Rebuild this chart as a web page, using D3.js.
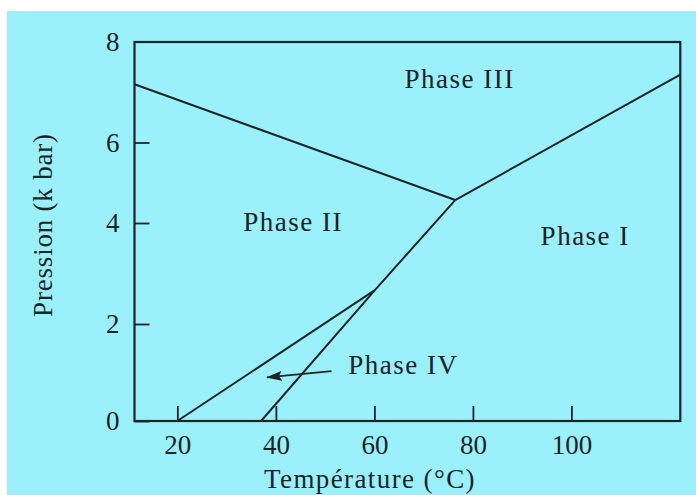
<!DOCTYPE html>
<html lang="fr">
<head>
<meta charset="UTF-8">
<title>Diagramme de phases</title>
<script src="https://d3js.org/d3.v7.min.js"></script>
<style>
    body { margin: 0; background: #fff; }
</style>
</head>
<body>
<svg width="696" height="495"></svg>
<script>
// ticks
const ticksT = [20, 40, 60, 80, 100];
const ticksP = [0, 2, 4, 6, 8];

// lignes de coexistence (T en °C, P en k bar)
const ligneII_III = { T: [11.3, 76.4], P: [7.16, 4.57] };
const ligneI_III  = { T: [76.4, 122.1], P: [4.57, 7.35] };
const ligneI_II   = { T: [76.4, 60.1, 37.0], P: [4.57, 2.67, 0] };
const ligneII_IV  = { T: [60.1, 20.0], P: [2.67, 0] };
const lignes = [ligneII_III, ligneI_III, ligneI_II, ligneII_IV];

// étiquettes des phases
const phaseNoms = ["Phase III", "Phase II", "Phase I", "Phase IV"];
const phaseT    = [77.3, 43.5, 102.8, 65.9];
const phaseP    = [7.08, 3.84, 3.56, 0.97];

// flèche vers la phase IV
const flecheT = [51.3, 38.2];
const flecheP = [1.03, 0.90];

const svg = d3.select("svg");
const ink = "#1c2426";
const police = "'Liberation Serif', 'Times New Roman', serif";

svg.append("rect")
    .attr("x", 7).attr("y", 11)
    .attr("width", 689).attr("height", 484)
    .attr("fill", "#9af0fb");

const x = d3.scaleLinear().domain([11.3, 122.1]).range([134.5, 680.3]);
// graduation de l'original pas tout à fait régulière
const y = d3.scaleLinear().domain(ticksP).range([421, 324, 223, 142.5, 42]);

// axes
const gx = svg.append("g")
    .attr("transform", "translate(0,421)")
    .call(d3.axisBottom(x).tickValues(ticksT).tickSizeInner(-15).tickSizeOuter(0).tickPadding(14));
const gy = svg.append("g")
    .attr("transform", "translate(134.5,0)")
    .call(d3.axisLeft(y).tickValues(ticksP).tickSizeInner(-15).tickSizeOuter(0).tickPadding(15));

[gx, gy].forEach(g => {
    g.select(".domain").remove();
    g.selectAll(".tick line").attr("stroke", ink).attr("stroke-width", 1.8);
    g.selectAll(".tick text")
        .style("font-family", police)
        .style("font-size", "27px")
        .attr("fill", ink);
});
gy.select(".tick:last-of-type line").remove();

// cadre
svg.append("rect")
    .attr("x", x.range()[0]).attr("y", y(8))
    .attr("width", x.range()[1] - x.range()[0])
    .attr("height", y(0) - y(8))
    .attr("fill", "none")
    .attr("stroke", ink)
    .attr("stroke-width", 2.2);

// lignes
const line = d3.line().x(d => x(d[0])).y(d => y(d[1]));
svg.selectAll(".ligne")
    .data(lignes)
    .enter().append("path")
    .attr("class", "ligne")
    .attr("d", d => line(d3.zip(d.T, d.P)))
    .attr("fill", "none")
    .attr("stroke", ink)
    .attr("stroke-width", 2);

// flèche
svg.append("defs").append("marker")
    .attr("id", "tete")
    .attr("markerUnits", "userSpaceOnUse")
    .attr("markerWidth", 16).attr("markerHeight", 10)
    .attr("refX", 15).attr("refY", 5)
    .attr("orient", "auto")
    .append("path")
    .attr("d", "M0,0 L16,5 L0,10 L3,5 z")
    .attr("fill", ink);

svg.append("path")
    .attr("d", line(d3.zip(flecheT, flecheP)))
    .attr("fill", "none")
    .attr("stroke", ink)
    .attr("stroke-width", 1.8)
    .attr("marker-end", "url(#tete)");

// étiquettes
svg.selectAll(".phase")
    .data(phaseNoms)
    .enter().append("text")
    .attr("class", "phase")
    .attr("x", (d, i) => x(phaseT[i]))
    .attr("y", (d, i) => y(phaseP[i]))
    .attr("text-anchor", "middle")
    .style("font-family", police)
    .style("font-size", "27px")
    .style("letter-spacing", "1.5px")
    .attr("fill", ink)
    .text(d => d);

// titres des axes
svg.append("text")
    .attr("x", 370).attr("y", 488)
    .attr("text-anchor", "middle")
    .style("font-family", police)
    .style("font-size", "27px")
    .style("letter-spacing", "1.4px")
    .attr("fill", ink)
    .text("Température (°C)");

svg.append("text")
    .attr("transform", "translate(52,225) rotate(-90)")
    .attr("text-anchor", "middle")
    .style("font-family", police)
    .style("font-size", "27px")
    .style("letter-spacing", "0.8px")
    .attr("fill", ink)
    .text("Pression (k bar)");
</script>
</body>
</html>
